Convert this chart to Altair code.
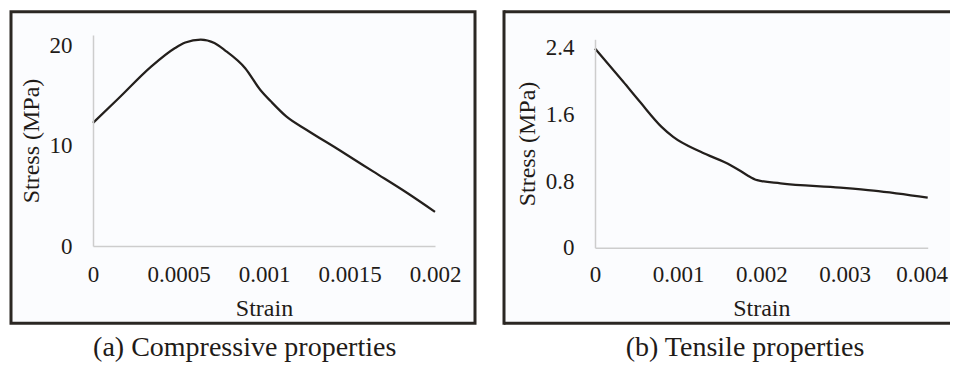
import altair as alt
import pandas as pd

# ---- data ----
comp_strain = [0, 0.00015, 0.00034, 0.00048, 0.00054, 0.00063, 0.00071, 0.00077,
               0.00089, 0.00098, 0.00104, 0.00113, 0.00125, 0.00144, 0.00164,
               0.00184, 0.002]
comp_stress = [12.25, 14.7, 17.85, 19.7, 20.25, 20.55, 20.2, 19.5,
               17.7, 15.5, 14.4, 12.9, 11.55, 9.55, 7.4,
               5.25, 3.4]

tens_strain = [0, 0.00034, 0.00054, 0.0008, 0.00094, 0.00127, 0.00163, 0.00175,
               0.00183, 0.00195, 0.00223, 0.00295, 0.00335, 0.004]
tens_stress = [2.39, 1.99, 1.75, 1.45, 1.33, 1.15, 0.99, 0.92,
               0.87, 0.81, 0.772, 0.72, 0.684, 0.60]

comp_xticks = [0, 0.0005, 0.001, 0.0015, 0.002]
comp_yticks = [0, 10, 20]
tens_xticks = [0, 0.001, 0.002, 0.003, 0.004]
tens_yticks = [0, 0.8, 1.6, 2.4]
captions = ["(a) Compressive properties", "(b) Tensile properties"]
x_title = "Strain"
y_title = "Stress (MPa)"

# ---- styles ----
FONT = "Liberation Serif"
TEXT = "#1f1b18"
LINE = "#231f1c"
FRAME = "#2b2723"
BG = "#fbfcfe"
AXIS = "#cdcdcd"
W, H = 942, 355
ONE = pd.DataFrame({"a": [0]})


def x_axis(ticks, pad, ty, off, label_offset=0):
    return alt.Axis(values=ticks, format="~g", title=x_title, orient="bottom", offset=off,
                    grid=False, ticks=False, tickSize=0, domainColor=AXIS, domainWidth=1.5,
                    labelBaseline="alphabetic", labelPadding=pad, labelFlush=False,
                    labelOffset=label_offset,
                    labelOverlap=False, labelFont=FONT, labelFontSize=23, labelColor=TEXT,
                    titleFont=FONT, titleFontSize=24, titleColor=TEXT,
                    titleFontWeight="normal", titleBaseline="alphabetic", titleY=ty,
                    zindex=1)


def y_axis(ticks, tx, off):
    return alt.Axis(values=ticks, format="~g", title=y_title, orient="left", offset=off,
                    grid=False, ticks=False, tickSize=0, domainColor=AXIS, domainWidth=1.5,
                    labelPadding=21, labelFlush=False, labelOverlap=False,
                    labelFont=FONT, labelFontSize=23, labelColor=TEXT,
                    titleFont=FONT, titleFontSize=24, titleColor=TEXT,
                    titleFontWeight="normal", titleAngle=270, titleBaseline="middle",
                    titleX=tx, zindex=1)


def rect(x0, x1, y0, y1, **kw):
    return alt.Chart(ONE).mark_rect(**kw).encode(
        x=alt.value(x0), x2=alt.value(x1), y=alt.value(y0), y2=alt.value(y1))


def hrule(x0, x1, y0):
    return alt.Chart(ONE).mark_rule(color=FRAME, strokeWidth=3).encode(
        x=alt.value(x0), x2=alt.value(x1), y=alt.value(y0))


def vrule(x0, y0, y1):
    return alt.Chart(ONE).mark_rule(color=FRAME, strokeWidth=3, strokeCap="square").encode(
        x=alt.value(x0), y=alt.value(y0), y2=alt.value(y1))


# frames (pixel positions relative to the drawing area)
frame_a = rect(3, 467, 3.7, 315.3, fill=BG, stroke=FRAME, strokeWidth=3)
frame_b = rect(496, 946, 3.7, 315.3, fill=BG, strokeWidth=0)
frame_b_top = hrule(496, 946, 3.7)
frame_b_bot = hrule(496, 946, 315.3)
frame_b_left = vrule(496, 3.7, 315.3)

comp_df = pd.DataFrame({"c_strain": comp_strain, "c_stress": comp_stress})
tens_df = pd.DataFrame({"t_strain": tens_strain, "t_stress": tens_stress})

# keep the last right-panel label inside the page
last_label_shift = {"condition": {"test": "datum.value >= 0.0035", "value": -6}, "value": 0}

line_a = alt.Chart(comp_df).mark_line(color=LINE, strokeWidth=2.25, interpolate="monotone").encode(
    x=alt.X("c_strain:Q", scale=alt.Scale(domain=[0, 0.002], range=[85, 427], nice=False, zero=False),
            axis=x_axis(comp_xticks, 35, 69, 238 - H)),
    y=alt.Y("c_stress:Q", scale=alt.Scale(domain=[0, 21], range=[238, 27], nice=False),
            axis=y_axis(comp_yticks, -61.3, -85)),
)
line_b = alt.Chart(tens_df).mark_line(color=LINE, strokeWidth=2.25, interpolate="monotone").encode(
    x=alt.X("t_strain:Q", scale=alt.Scale(domain=[0, 0.004], range=[587, 919.7], nice=False, zero=False),
            axis=x_axis(tens_xticks, 33.3, 67.3, 239.7 - H, last_label_shift)),
    y=alt.Y("t_stress:Q", scale=alt.Scale(domain=[0, 2.5], range=[239.7, 31.3], nice=False),
            axis=y_axis(tens_yticks, -67.7, -587)),
)

cap_df = pd.DataFrame({"cap": captions})
caps = alt.Chart(cap_df).mark_text(font=FONT, fontSize=28, color=TEXT, align="center",
                                   baseline="alphabetic")
cap_a = caps.transform_filter(alt.datum.cap == captions[0]).encode(
    x=alt.value(236.7), y=alt.value(348), text="cap:N")
cap_b = caps.transform_filter(alt.datum.cap == captions[1]).encode(
    x=alt.value(737), y=alt.value(348), text="cap:N")

chart = alt.layer(frame_a, frame_b, frame_b_top, frame_b_bot, frame_b_left,
                  line_a, line_b, cap_a, cap_b).resolve_scale(
    x="independent", y="independent").resolve_axis(
    x="independent", y="independent").properties(
    width=W, height=H, padding=0, background="white",
    autosize=alt.AutoSizeParams(type="none"),
).configure_view(stroke=None)

chart.save("out.html", embed_options={"renderer": "svg", "actions": False})
